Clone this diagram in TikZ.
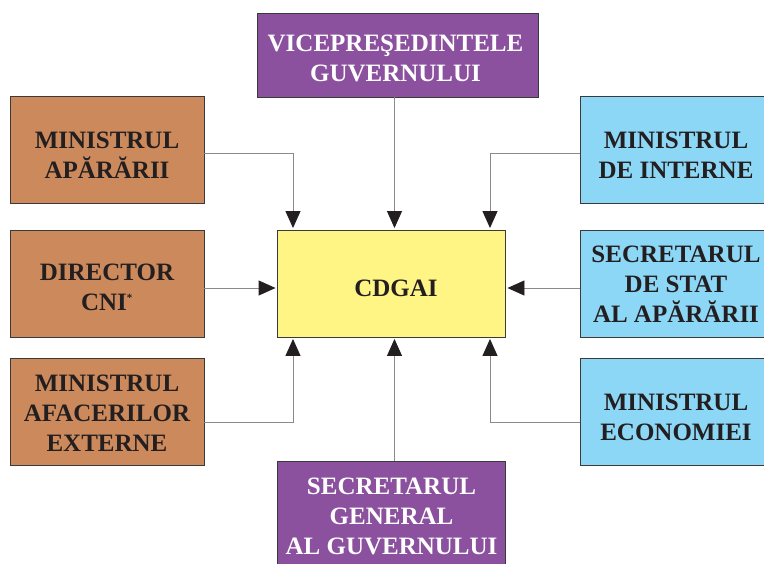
\documentclass[tikz,border=0pt]{standalone}
\usepackage{fontspec}
\setmainfont{Liberation Serif}
\usetikzlibrary{arrows.meta}
\definecolor{cbrown}{HTML}{CC8A5C}
\definecolor{cpurple}{HTML}{8B519E}
\definecolor{cyellow}{HTML}{FFF585}
\definecolor{cblue}{HTML}{8DD7F6}
\definecolor{cborder}{HTML}{3A3A3A}
\definecolor{ctext}{HTML}{231F20}
\definecolor{cline}{HTML}{8A8A8A}
\tikzset{
  box/.style={draw=cborder, line width=0.9pt, inner sep=0pt},
  txt/.style={align=center, inner sep=0pt, text=ctext,
    font=\bfseries\fontsize{25}{30}\selectfont},
  wtxt/.style={txt, text=white},
  brownbox/.style={box, fill=cbrown, minimum width=194pt, minimum height=107pt},
  bluebox/.style={box, fill=cblue, minimum width=194pt, minimum height=107pt},
  purplebox/.style={box, fill=cpurple},
  yellowbox/.style={box, fill=cyellow, minimum width=228pt, minimum height=107pt},
  arr/.style={draw=cline, line width=0.9pt, shorten >=1.5pt,
    -{Triangle[length=17pt,width=15pt,color=ctext]}}
}
\begin{document}
\begin{tikzpicture}[x=1pt,y=1pt]
\useasboundingbox (0,0) rectangle (764,-563);
\clip (0,0) rectangle (764,-563);
\fill[white] (0,0) rectangle (764,-563);
% boxes
\node[yellowbox] (cdgai) at (391.5,-283.5) {};
\node[purplebox, minimum width=281pt, minimum height=84pt] (vice) at (397.5,-55) {};
\node[purplebox, minimum width=228pt, minimum height=114pt] (secgen) at (391.5,-518) {};
\node[brownbox] (apa) at (107,-149.5) {};
\node[brownbox] (cni) at (107,-283.5) {};
\node[brownbox] (mae) at (107,-411.5) {};
\node[bluebox] (mai) at (677,-149.5) {};
\node[bluebox] (ssa) at (677,-283.5) {};
\node[bluebox] (eco) at (677,-411.5) {};
% texts
\node[txt] (cdgai-t) at ([xshift=4.5pt,yshift=-5pt]cdgai.center) {CDGAI};
\node[wtxt] (vice-t) at ([xshift=-2pt,yshift=-3.5pt]vice.center) {VICEPREŞEDINTELE\\GUVERNULUI};
\node[wtxt] (secgen-t) at ([yshift=1.5pt]secgen.center) {SECRETARUL\\GENERAL\\AL GUVERNULUI};
\node[txt] (apa-t) at ([yshift=-5.5pt]apa.center) {MINISTRUL\\APĂRĂRII};
\node[txt] (cni-t) at ([yshift=-4pt]cni.center) {DIRECTOR\\CNI\textsuperscript{\fontsize{11}{11}\selectfont *}};
\node[txt] (mae-t) at ([yshift=-2pt]mae.center) {MINISTRUL\\AFACERILOR\\EXTERNE};
\node[txt] (mai-t) at ([xshift=-1pt,yshift=-6pt]mai.center) {MINISTRUL\\DE INTERNE};
\node[txt] (ssa-t) at ([xshift=-1pt,yshift=-1pt]ssa.center) {SECRETARUL\\DE STAT\\AL APĂRĂRII};
\node[txt] (eco-t) at ([xshift=-1pt,yshift=-5.5pt]eco.center) {MINISTRUL\\ECONOMIEI};
% connectors
\coordinate (tl) at ([xshift=-98.5pt]cdgai.north);
\coordinate (tr) at ([xshift=98.5pt]cdgai.north);
\coordinate (bl) at ([xshift=-98.5pt]cdgai.south);
\coordinate (br) at ([xshift=98.5pt]cdgai.south);
\draw[arr] ([yshift=-3.5pt]apa.east) -| (tl);
\draw[arr] ([yshift=-3.5pt]mai.west) -| (tr);
\draw[arr] ([yshift=-10.5pt]mae.east) -| (bl);
\draw[arr] ([yshift=-10.5pt]eco.west) -| (br);
\draw[arr] ([yshift=-4.5pt]cni.east) -- ([yshift=-4.5pt]cdgai.west);
\draw[arr] ([yshift=-4.5pt]ssa.west) -- ([yshift=-4.5pt]cdgai.east);
\draw[arr] ([xshift=-3pt]vice.south) -- ([xshift=-3pt]vice.south |- cdgai.north);
\draw[arr] ([xshift=3pt]secgen.north) -- ([xshift=3pt]cdgai.south);
\end{tikzpicture}
\end{document}
